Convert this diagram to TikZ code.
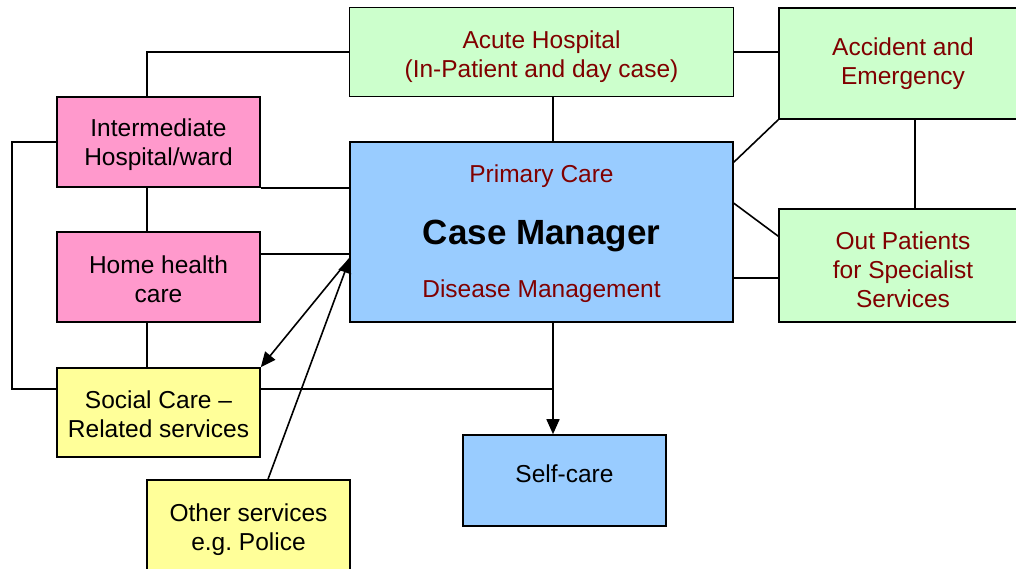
\documentclass[tikz,border=0pt]{standalone}
\usepackage{fontspec}
\setmainfont{Liberation Sans}
\usetikzlibrary{arrows.meta}
\definecolor{boxgreen}{RGB}{204,255,204}
\definecolor{boxpink}{RGB}{255,153,204}
\definecolor{boxblue}{RGB}{153,204,255}
\definecolor{boxyellow}{RGB}{255,255,153}
\definecolor{darkred}{RGB}{128,0,0}

\begin{document}
\begin{tikzpicture}[x=1pt,y=-1pt,
  box/.style={draw,line width=1.6pt,inner sep=0pt},
  txt/.style={align=center,inner sep=0pt,font=\fontsize{24.5}{29}\selectfont},
  link/.style={line width=1.6pt},
  arr/.style={line width=1.6pt,-{Triangle[length=15pt,width=13pt]}}]
\useasboundingbox (0,0) rectangle (1016,569);
\clip (0,0) rectangle (1016,569);

% boxes
\node[box,fill=boxgreen,minimum width=384,minimum height=89] (acute) at (541.5,52) {};
\node[box,fill=boxgreen,minimum width=248,minimum height=111] (ae) at (903,63.5) {};
\node[box,fill=boxpink,minimum width=203,minimum height=90] (inter) at (158.5,142) {};
\node[box,fill=boxblue,minimum width=383,minimum height=180] (cm) at (541.5,232) {};
\node[box,fill=boxpink,minimum width=203,minimum height=90] (home) at (158.5,277) {};
\node[box,fill=boxgreen,minimum width=248,minimum height=113] (outp) at (903,265.5) {};
\node[box,fill=boxyellow,minimum width=203,minimum height=89] (social) at (158.5,412.5) {};
\node[box,fill=boxblue,minimum width=203,minimum height=91] (self) at (564.5,480.5) {};
\node[box,fill=boxyellow,minimum width=203,minimum height=90] (other) at (248.5,525) {};

% texts
\node[txt,text=darkred] (acute-t) at ([yshift=-5pt]acute.center) {Acute Hospital\\(In-Patient and day case)};
\node[txt,text=darkred] (ae-t) at (ae.center) {Accident and\\Emergency};
\node[txt] (inter-t) at ([yshift=-3pt]inter.center) {Intermediate\\Hospital/ward};
\node[txt] (home-t) at ([yshift=-2pt]home.center) {Home health\\care};
\node[txt,text=darkred] (outp-t) at ([yshift=-4pt]outp.center) {Out Patients\\for Specialist\\Services};
\node[txt] (social-t) at ([yshift=-2pt]social.center) {Social Care --\\Related services};
\node[txt] (self-t) at ([yshift=7pt]self.center) {Self-care};
\node[txt] (other-t) at ([yshift=-5pt]other.center) {Other services\\e.g.\ Police};
\node[txt,text=darkred] (pc) at (541.5,176) {Primary Care};
\node[txt,font=\fontsize{35}{40}\selectfont\bfseries] (cmt) at (541.5,236) {Case Manager};
\node[txt,text=darkred] (dm) at (541.5,291) {Disease Management};

% connector columns and rows
\coordinate (lx) at (147,0);
\coordinate (mx) at (553,0);
\coordinate (rx) at (915,0);
\coordinate (farx) at (12,0);
\coordinate (homey) at (0,254);
\coordinate (socy) at (0,389);
\coordinate (hit) at (350,258);
\coordinate (otherx) at (268,0);

% connectors
\draw[link] (inter.north -| lx) |- (acute.west);
\draw[link] (acute.east) -- (acute.east -| ae.west);
\draw[link] (acute.south -| mx) -- (cm.north -| mx);
\draw[link] (inter.south east) -- (inter.south east -| cm.west);
\draw[link] (inter.south -| lx) -- (home.north -| lx);
\draw[link] (home.east |- homey) -- (cm.west |- homey);
\draw[link] (home.south -| lx) -- (social.north -| lx);
\draw[link] (inter.west) -| (farx |- socy) -- (social.west |- socy);
\draw[link] (social.east |- socy) -- (mx |- socy);
\draw[arr] (cm.south -| mx) -- (self.north -| mx);
\draw[arr,{Triangle[length=15pt,width=13pt]}-] (social.north east) -- (hit);
\draw[arr] (other.north -| otherx) -- (hit);
\draw[link] ([yshift=-21pt]cm.north east) -- (ae.south west);
\draw[link] ([yshift=-62pt]cm.north east) -- ([yshift=-28pt]outp.north west);
\draw[link] ([yshift=45pt]cm.south east) -- ([yshift=45pt]cm.south east -| outp.west);
\draw[link] (ae.south -| rx) -- (outp.north -| rx);
\end{tikzpicture}
\end{document}
